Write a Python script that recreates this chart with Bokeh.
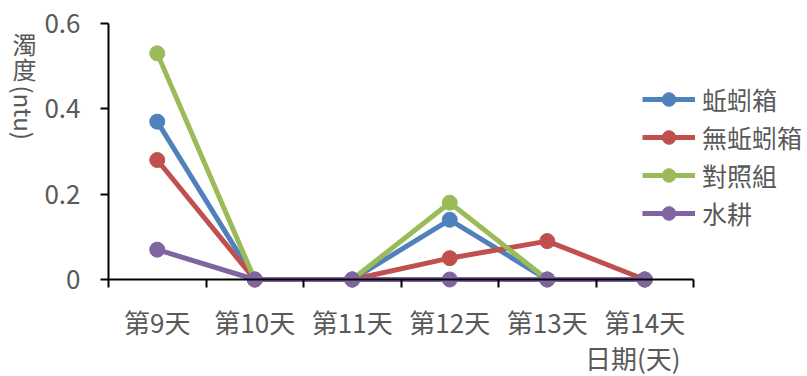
from math import pi

from bokeh.plotting import figure
from bokeh.models import Range1d, FixedTicker, Legend, LegendItem, Label
from bokeh.embed import file_html
from bokeh.resources import INLINE

# 濁度 measurements per day for each box
days = ["第9天", "第10天", "第11天", "第12天", "第13天", "第14天"]
earthworm = [0.37, 0, 0, 0.14, 0, 0]
no_earthworm = [0.28, 0, 0, 0.05, 0.09, 0]
control = [0.53, 0, 0, 0.18, 0, 0]
hydroponic = [0.07, 0, 0, 0, 0, 0]

series_names = ["蚯蚓箱", "無蚯蚓箱", "對照組", "水耕"]
series_values = [earthworm, no_earthworm, control, hydroponic]
colors = ["#4F81BD", "#C0504D", "#9BBB59", "#8064A2"]

y_ticks = [0, 0.2, 0.4, 0.6]
y_tick_labels = ["0", "0.2", "0.4", "0.6"]

FONT = "Noto Sans CJK TC"
TEXT = "#595959"

W, H = 807, 376
# pixel box of the plotting area inside the canvas
AX_LEFT, AX_RIGHT, AX_TOP, AX_BOTTOM = 108, 693, 23, 279
Y_MAX = 0.6

n = len(days)
px_x = (AX_RIGHT - AX_LEFT) / n
px_y = (AX_BOTTOM - AX_TOP) / Y_MAX

# the frame covers the whole canvas; the ranges are widened so that the
# plotting area lands on the box above and axes sit at x = 0 / y = 0
x_range = Range1d(-AX_LEFT / px_x, (W - AX_LEFT) / px_x)
y_range = Range1d(-(H - AX_BOTTOM) / px_y, Y_MAX + AX_TOP / px_y)

# category i sits in the middle of slot [i, i+1]
xs = [i + 0.5 for i in range(n)]

p = figure(
    width=W, height=H,
    output_backend="svg", toolbar_location=None,
    x_range=x_range, y_range=y_range,
    min_border_left=0, min_border_right=0,
    min_border_top=0, min_border_bottom=0,
)
p.outline_line_color = None
p.xgrid.visible = False
p.ygrid.visible = False
p.background_fill_color = "white"
p.border_fill_color = "white"

# x axis drawn at y = 0, ticks between categories
xa = p.xaxis[0]
xa.fixed_location = 0
xa.bounds = (0, n)
xa.ticker = FixedTicker(ticks=xs, minor_ticks=list(range(n + 1)))
xa.major_label_overrides = {x: d for x, d in zip(xs, days)}
xa.major_tick_out = 0
xa.major_tick_in = 0
xa.minor_tick_out = 8
xa.minor_tick_in = 0
xa.minor_tick_line_color = "black"
xa.minor_tick_line_width = 2
xa.axis_line_color = "black"
xa.axis_line_width = 2
xa.major_label_standoff = 15
xa.major_label_text_font = FONT
xa.major_label_text_font_size = "26px"
xa.major_label_text_color = TEXT

ya = p.yaxis[0]
ya.fixed_location = 0
ya.bounds = (0, Y_MAX)
ya.ticker = FixedTicker(ticks=y_ticks, minor_ticks=[])
ya.major_label_overrides = {t: s for t, s in zip(y_ticks, y_tick_labels)}
ya.major_tick_out = 8
ya.major_tick_in = 0
ya.major_tick_line_color = "black"
ya.major_tick_line_width = 2
ya.axis_line_color = "black"
ya.axis_line_width = 2
ya.major_label_standoff = 20
ya.major_label_text_font = FONT
ya.major_label_text_font_size = "26px"
ya.major_label_text_color = TEXT

items = []
for name, vals, c in zip(series_names, series_values, colors):
    ln = p.line(xs, vals, line_color=c, line_width=5)
    mk = p.scatter(xs, vals, size=15, fill_color=c, line_color=c)
    items.append(LegendItem(label=name, renderers=[ln, mk]))

legend = Legend(
    items=items, location=(642, 145),
    glyph_width=53, glyph_height=34, label_height=34,
    label_standoff=7, spacing=2, padding=0, margin=0,
    border_line_color=None, background_fill_alpha=0,
    label_text_font=FONT, label_text_font_size="25px",
    label_text_color=TEXT,
)
p.add_layout(legend, "center")

# vertical axis title: CJK upright, latin part turned clockwise
title_kw = dict(x_units="screen", y_units="screen", text_font=FONT,
                text_font_size="24px", text_color=TEXT, text_baseline="middle")
p.add_layout(Label(x=24, y=H - 43, text="濁", text_align="center", **title_kw))
p.add_layout(Label(x=24, y=H - 68, text="度", text_align="center", **title_kw))
p.add_layout(Label(x=24, y=H - 85, text="(ntu)", text_align="left",
                   angle=-pi / 2, **title_kw))

p.add_layout(Label(x=680, y=H - 357, text="日期(天)", text_align="right",
                   x_units="screen", y_units="screen", text_font=FONT,
                   text_font_size="26px", text_color=TEXT,
                   text_baseline="middle"))

open("out.html", "w").write(file_html(p, INLINE))
